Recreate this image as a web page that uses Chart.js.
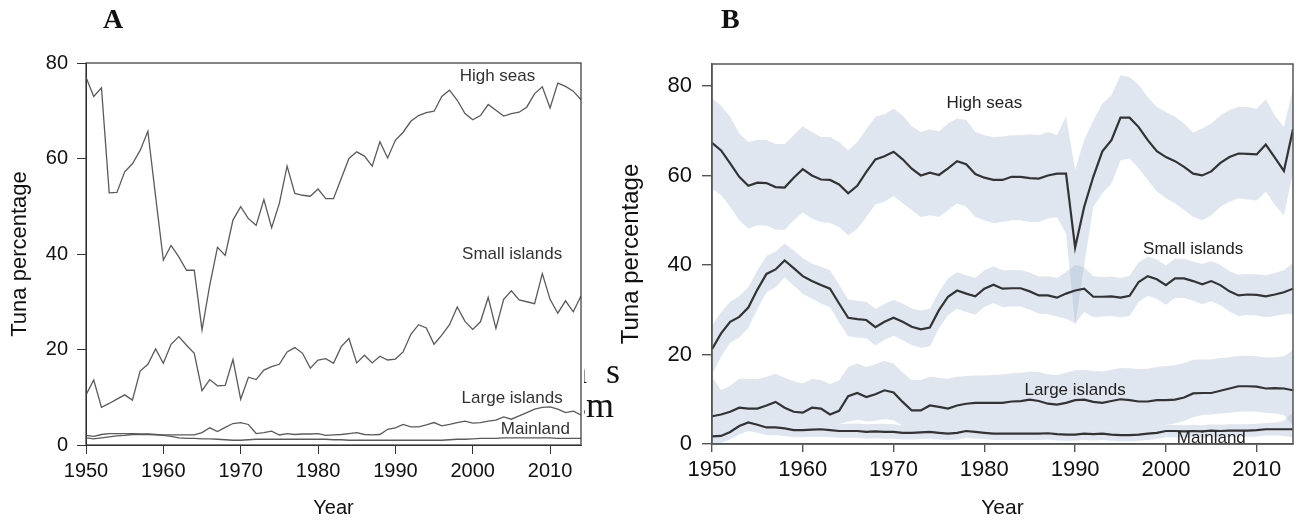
<!DOCTYPE html>
<html>
<head>
<meta charset="utf-8">
<script src="https://cdn.jsdelivr.net/npm/chart.js@4.4.0/dist/chart.umd.min.js"></script>
<style>
  html, body { margin: 0; padding: 0; background: #fff; }
  body { width: 1297px; height: 521px; position: relative; overflow: hidden; }
  .panel { position: absolute; top: 0; height: 521px; }
  #wrapA { left: 0; width: 620px; }
  #wrapB { left: 620px; width: 677px; }
  .tag { position: absolute; top: 3px; font: bold 28px "Liberation Serif", serif; color: #111; }
</style>
</head>
<body>
<div class="panel" id="wrapA"><canvas id="chartA" width="620" height="521"></canvas></div>
<div class="panel" id="wrapB"><canvas id="chartB" width="677" height="521"></canvas></div>
<div class="tag" style="left:103px">A</div>
<div class="tag" style="left:721px">B</div>
<script>
const years = Array.from({ length: 65 }, (_, i) => 1950 + i);
const xTicks = [1950, 1960, 1970, 1980, 1990, 2000, 2010];
const yTicks = [0, 20, 40, 60, 80];

// Panel A - raw percentages
const highSeasA = [
  77.0, 73.0, 74.8, 52.8, 52.9, 57.2, 58.9, 61.7, 65.7, 52.0,
  38.7, 41.8, 39.4, 36.6, 36.6, 24.1, 33.5, 41.4, 39.7, 47.1,
  49.9, 47.4, 46.0, 51.4, 45.5, 50.6, 58.4, 52.7, 52.3, 52.1,
  53.6, 51.6, 51.6, 55.8, 60.0, 61.4, 60.5, 58.4, 63.5, 60.1,
  63.8, 65.5, 67.8, 69.0, 69.6, 69.9, 73.0, 74.3, 72.2, 69.4,
  68.1, 69.0, 71.3, 70.1, 68.9, 69.4, 69.7, 70.8, 73.6, 75.0,
  70.6, 75.8, 75.1, 74.1, 72.3
];
const smallIslandsA = [
  10.5, 13.6, 7.9, 8.7, 9.6, 10.5, 9.4, 15.5, 16.9, 20.1,
  17.1, 21.1, 22.7, 20.9, 19.2, 11.4, 13.7, 12.4, 12.5, 17.9,
  9.6, 14.2, 13.7, 15.7, 16.4, 16.9, 19.5, 20.4, 19.2, 16.1,
  17.8, 18.1, 17.1, 20.6, 22.3, 17.2, 18.8, 17.2, 18.6, 17.8,
  18.0, 19.5, 23.2, 25.2, 24.5, 21.1, 23.0, 25.2, 28.9, 25.9,
  24.2, 25.8, 30.9, 24.4, 30.5, 32.3, 30.4, 30.0, 29.6, 35.9,
  30.5, 27.6, 30.2, 27.9, 31.2
];
const largeIslandsA = [
  2.0, 1.8, 2.2, 2.4, 2.4, 2.4, 2.4, 2.3, 2.3, 2.2,
  2.1, 2.1, 2.1, 2.1, 2.1, 2.6, 3.6, 2.8, 3.7, 4.5,
  4.7, 4.3, 2.4, 2.6, 2.9, 2.1, 2.4, 2.2, 2.3, 2.3,
  2.4, 2.0, 2.1, 2.2, 2.4, 2.6, 2.2, 2.1, 2.2, 3.3,
  3.6, 4.3, 3.8, 3.8, 4.2, 4.7, 4.0, 4.3, 4.7, 5.0,
  4.6, 4.7, 5.0, 5.2, 5.9, 5.4, 6.1, 6.8, 7.5, 7.9,
  8.0, 7.5, 6.8, 7.1, 6.3
];
const mainlandA = [
  1.5, 1.3, 1.5, 1.7, 1.9, 2.0, 2.2, 2.2, 2.2, 2.1,
  2.0, 1.8, 1.5, 1.4, 1.4, 1.3, 1.3, 1.2, 1.1, 1.0,
  1.0, 1.1, 1.2, 1.2, 1.2, 1.2, 1.2, 1.2, 1.2, 1.2,
  1.2, 1.2, 1.1, 1.1, 1.0, 1.0, 1.0, 1.0, 1.0, 1.0,
  1.0, 1.0, 1.0, 1.0, 1.0, 1.0, 1.0, 1.1, 1.2, 1.2,
  1.3, 1.4, 1.4, 1.4, 1.5, 1.5, 1.5, 1.5, 1.5, 1.5,
  1.5, 1.4, 1.4, 1.4, 1.4
];

// Panel B - modelled percentages with intervals
const highSeasB = [
  67.3, 65.6, 62.7, 59.7, 57.7, 58.4, 58.3, 57.4, 57.3, 59.5,
  61.4, 60.0, 59.1, 59.0, 58.0, 56.0, 57.7, 60.8, 63.6, 64.3,
  65.3, 63.6, 61.5, 60.0, 60.6, 60.1, 61.6, 63.2, 62.5, 60.3,
  59.5, 59.0, 59.0, 59.7, 59.7, 59.4, 59.3, 60.0, 60.4, 60.4,
  43.9, 53.0, 59.7, 65.4, 67.9, 72.9, 72.9, 70.8, 67.9, 65.4,
  64.1, 63.2, 61.9, 60.4, 60.0, 60.9, 62.8, 64.1, 64.9, 64.8,
  64.7, 66.9, 64.0, 61.0, 70.3
];
const highSeasBHi = [
  77.3, 75.6, 73.1, 69.4, 67.5, 68.0, 67.9, 67.0, 67.0, 69.0,
  71.0, 69.7, 68.6, 68.6, 67.5, 65.6, 67.5, 70.3, 73.1, 73.7,
  74.9, 73.4, 71.0, 69.7, 70.3, 69.9, 71.6, 72.7, 72.4, 69.7,
  69.0, 68.6, 68.7, 69.0, 69.0, 69.2, 69.0, 69.7, 69.0, 73.2,
  61.3, 67.9, 72.3, 76.1, 77.9, 82.4, 82.0, 80.2, 77.5, 75.3,
  74.2, 73.1, 71.6, 69.6, 70.5, 71.6, 73.4, 74.6, 75.3, 75.3,
  74.9, 77.0, 73.4, 70.8, 79.4
];
const highSeasBLo = [
  57.1, 55.6, 53.0, 50.0, 48.1, 48.9, 48.8, 47.9, 47.8, 50.0,
  51.7, 50.4, 49.6, 49.4, 48.5, 46.6, 48.1, 50.7, 53.5, 54.1,
  55.4, 53.8, 52.3, 50.7, 51.1, 50.7, 52.3, 53.8, 53.0, 50.7,
  50.0, 49.4, 49.6, 50.0, 50.0, 49.6, 49.6, 50.4, 50.7, 47.0,
  26.5, 40.0, 53.0, 56.0, 58.2, 63.4, 63.8, 61.6, 59.0, 56.4,
  54.9, 53.8, 52.3, 50.7, 50.0, 51.1, 53.0, 54.1, 54.9, 54.6,
  54.4, 56.4, 53.4, 51.1, 60.7
];
const smallIslandsB = [
  21.2, 24.7, 27.3, 28.4, 30.5, 34.5, 38.0, 39.0, 41.0, 39.3,
  37.5, 36.4, 35.5, 34.7, 31.4, 28.2, 27.9, 27.7, 26.1, 27.3,
  28.2, 27.3, 26.2, 25.6, 26.0, 29.9, 32.9, 34.3, 33.6, 33.0,
  34.7, 35.6, 34.7, 34.8, 34.8, 34.1, 33.2, 33.2, 32.7, 33.6,
  34.3, 34.7, 32.9, 32.9, 33.0, 32.7, 33.1, 36.2, 37.5, 36.8,
  35.5, 37.0, 37.0, 36.4, 35.7, 36.4, 35.5, 34.1, 33.2, 33.4,
  33.3, 33.0, 33.4, 33.9, 34.7
];
const smallIslandsBHi = [
  26.5, 29.5, 31.8, 33.0, 35.0, 38.8, 42.0, 43.0, 44.8, 43.3,
  41.5, 40.3, 39.6, 38.8, 35.6, 32.3, 32.0, 31.8, 30.2, 31.3,
  32.2, 31.4, 30.3, 29.8, 30.2, 34.0, 37.0, 38.4, 37.7, 37.1,
  38.8, 39.7, 38.8, 38.9, 38.9, 38.3, 37.4, 37.5, 37.1, 38.5,
  40.0, 39.5, 37.5, 37.3, 37.4, 37.1, 37.6, 40.6, 41.9, 41.2,
  39.9, 41.4, 41.4, 40.8, 40.2, 40.9, 40.0, 38.6, 37.8, 38.0,
  37.9, 37.7, 38.2, 38.8, 40.5
];
const smallIslandsBLo = [
  15.5, 19.5, 22.6, 23.8, 26.0, 30.2, 33.9, 35.0, 37.2, 35.4,
  33.5, 32.5, 31.4, 30.6, 27.2, 24.1, 23.8, 23.6, 22.0, 23.3,
  24.2, 23.2, 22.1, 21.5, 21.8, 25.8, 28.8, 30.2, 29.5, 28.9,
  30.6, 31.5, 30.6, 30.7, 30.7, 30.0, 29.1, 29.0, 28.5, 28.0,
  27.0, 29.5, 28.4, 28.5, 28.6, 28.3, 28.6, 31.8, 33.1, 32.4,
  31.1, 32.6, 32.6, 32.0, 31.3, 31.9, 31.0, 29.6, 28.6, 28.8,
  28.7, 28.3, 28.6, 29.0, 29.0
];
const largeIslandsB = [
  6.2, 6.6, 7.2, 8.1, 7.9, 7.9, 8.6, 9.4, 8.1, 7.2,
  7.0, 8.1, 7.9, 6.6, 7.4, 10.7, 11.4, 10.5, 11.1, 12.0,
  11.5, 9.4, 7.5, 7.5, 8.6, 8.3, 7.9, 8.6, 9.0, 9.2,
  9.2, 9.2, 9.2, 9.5, 9.6, 9.9, 9.6, 9.0, 8.8, 9.2,
  9.8, 9.9, 9.4, 9.2, 9.6, 10.0, 9.8, 9.5, 9.5, 9.8,
  9.8, 9.9, 10.4, 11.3, 11.4, 11.4, 11.9, 12.4, 12.9, 12.9,
  12.8, 12.4, 12.5, 12.4, 12.0
];
const largeIslandsBHi = [
  15.0, 12.0, 13.0, 14.6, 14.5, 14.5, 15.0, 15.7, 14.8, 14.0,
  13.5, 14.5, 14.3, 13.4, 14.2, 17.2, 18.0, 17.2, 17.8, 18.6,
  18.0, 16.0, 14.3, 14.3, 15.0, 14.8, 14.6, 15.0, 15.2, 15.3,
  15.3, 15.4, 15.5, 15.8, 15.9, 16.2, 16.1, 15.6, 15.4, 15.9,
  16.5, 16.6, 16.3, 16.2, 16.6, 17.0, 16.9, 16.7, 16.8, 17.2,
  17.4, 17.6, 18.1, 18.8, 18.9, 18.9, 19.2, 19.4, 19.7, 19.7,
  19.6, 19.3, 19.4, 19.6, 21.0
];
const largeIslandsBLo = [
  3.5, 3.6, 4.5, 6.0, 6.8, 6.3, 5.6, 5.5, 5.2, 4.8,
  4.7, 4.8, 4.9, 4.6, 4.4, 5.0, 5.4, 5.0, 5.2, 5.6,
  5.3, 4.1, 4.0, 4.1, 4.2, 4.0, 3.8, 4.0, 4.4, 4.2,
  4.0, 3.8, 3.8, 3.8, 3.8, 3.8, 3.8, 3.9, 3.7, 3.6,
  3.6, 3.8, 3.7, 3.8, 3.6, 3.5, 3.5, 3.6, 3.8, 4.0,
  4.3, 4.6, 5.2, 6.0, 6.5, 6.6, 6.8, 7.0, 7.2, 7.3,
  7.2, 7.0, 6.8, 6.5, 4.0
];
const mainlandB = [
  1.7, 1.8, 2.7, 4.0, 4.8, 4.3, 3.7, 3.7, 3.5, 3.1,
  3.1, 3.2, 3.3, 3.1, 2.9, 2.9, 2.9, 2.7, 2.8, 2.7,
  2.7, 2.5, 2.5, 2.6, 2.7, 2.5, 2.3, 2.5, 2.9, 2.7,
  2.5, 2.3, 2.3, 2.3, 2.3, 2.3, 2.3, 2.4, 2.2, 2.1,
  2.1, 2.3, 2.2, 2.3, 2.1, 2.0, 2.0, 2.1, 2.3, 2.5,
  2.9, 2.9, 2.8, 2.9, 2.8, 3.0, 2.9, 3.0, 3.0, 3.0,
  3.1, 3.3, 3.3, 3.3, 3.3
];
const mainlandBHi = [
  3.5, 3.6, 4.5, 6.0, 6.8, 6.3, 5.6, 5.5, 5.2, 4.8,
  4.7, 4.8, 4.9, 4.6, 4.4, 4.5, 4.6, 4.4, 4.5, 4.5,
  4.4, 4.1, 4.0, 4.1, 4.2, 4.0, 3.8, 4.0, 4.4, 4.2,
  4.0, 3.8, 3.8, 3.8, 3.8, 3.8, 3.8, 3.9, 3.7, 3.6,
  3.6, 3.8, 3.7, 3.8, 3.6, 3.5, 3.5, 3.6, 3.8, 4.0,
  4.3, 4.3, 4.2, 4.3, 4.2, 4.4, 4.3, 4.4, 4.4, 4.4,
  4.5, 4.7, 4.8, 5.2, 7.0
];
const mainlandBLo = [
  0.0, 0.2, 1.0, 2.2, 2.9, 2.5, 2.0, 2.0, 1.8, 1.5,
  1.5, 1.6, 1.6, 1.5, 1.4, 1.4, 1.4, 1.2, 1.3, 1.2,
  1.2, 1.0, 1.0, 1.1, 1.2, 1.0, 0.9, 1.0, 1.4, 1.2,
  1.1, 0.9, 0.9, 0.9, 0.9, 0.9, 0.9, 1.0, 0.8, 0.7,
  0.7, 0.9, 0.8, 0.9, 0.7, 0.6, 0.6, 0.7, 0.9, 1.1,
  1.5, 1.5, 1.4, 1.5, 1.4, 1.6, 1.5, 1.6, 1.6, 1.6,
  1.7, 1.9, 1.9, 1.8, 1.5
];

const sans = '"Liberation Sans", Arial, sans-serif';
const pts = arr => arr.map((v, i) => ({ x: years[i], y: v }));

const frame = {
  id: 'frame',
  afterDraw(chart, args, o) {
    const { ctx, chartArea: a, scales } = chart;
    ctx.save();
    ctx.strokeStyle = o.color;
    ctx.lineWidth = o.width;
    ctx.strokeRect(a.left, a.top, a.right - a.left, a.bottom - a.top);

    ctx.fillStyle = o.textColor;
    ctx.font = o.labelFont;
    ctx.textAlign = 'center';
    ctx.textBaseline = 'middle';
    o.labels.forEach(l => {
      ctx.fillText(l.text, scales.x.getPixelForValue(l.x), scales.y.getPixelForValue(l.y));
    });

    ctx.fillStyle = '#111';
    ctx.font = o.titleFont;
    ctx.textBaseline = 'alphabetic';
    ctx.fillText('Year', (a.left + a.right) / 2, o.xTitleY);
    ctx.save();
    ctx.font = o.yTitleFont;
    ctx.translate(o.yTitleX, (a.top + a.bottom) / 2);
    ctx.rotate(-Math.PI / 2);
    ctx.textBaseline = 'middle';
    ctx.fillText('Tuna percentage', 0, 0);
    ctx.restore();

    // bits of the page text showing beside panel A
    if (o.stray) {
      ctx.save();
      ctx.beginPath();
      ctx.rect(584, 340, 40, 100);
      ctx.clip();
      ctx.fillStyle = '#111';
      ctx.font = '36px "Liberation Serif", serif';
      ctx.textAlign = 'left';
      ctx.fillText('n', 569, 383);
      ctx.fillText('s', 606, 383);
      ctx.fillText('sm', 572, 417);
      ctx.restore();
    }
    ctx.restore();
  }
};

function axes(cfg) {
  return {
    x: {
      type: 'linear', min: 1950, max: 2014,
      afterBuildTicks: s => { s.ticks = xTicks.map(v => ({ value: v })); },
      afterFit: s => { s.height = cfg.xH; },
      grid: { drawOnChartArea: false, tickLength: cfg.xTick, color: cfg.axis, lineWidth: cfg.lw },
      border: { color: cfg.axis, width: cfg.lw },
      ticks: { callback: v => String(v), font: { family: sans, size: cfg.tickSize }, color: '#111',
               padding: cfg.xPad, maxRotation: 0, autoSkip: false }
    },
    y: {
      type: 'linear', min: 0, max: cfg.yMax,
      afterBuildTicks: s => { s.ticks = yTicks.map(v => ({ value: v })); },
      afterFit: s => { s.width = cfg.yW; },
      grid: { drawOnChartArea: false, tickLength: cfg.yTick, color: cfg.axis, lineWidth: cfg.lw },
      border: { color: cfg.axis, width: cfg.lw },
      ticks: { callback: v => String(v), font: { family: sans, size: cfg.tickSize }, color: '#111',
               padding: cfg.yPad }
    }
  };
}

const lineA = (data) => ({
  data: pts(data), borderColor: '#5a5a5a', borderWidth: 1.3,
  pointRadius: 0, tension: 0, fill: false
});

new Chart(document.getElementById('chartA'), {
  type: 'line',
  data: { datasets: [lineA(highSeasA), lineA(smallIslandsA), lineA(largeIslandsA), lineA(mainlandA)] },
  options: {
    responsive: false, animation: false,
    layout: { padding: { top: 63, right: 39, bottom: 0, left: 0 } },
    plugins: {
      legend: { display: false }, tooltip: { enabled: false },
      frame: {
        color: '#333', width: 1.2, textColor: '#333',
        labelFont: '17px ' + sans, titleFont: '20px ' + sans, yTitleFont: '22px ' + sans,
        xTitleY: 514, yTitleX: 20, stray: true,
        labels: [
          { text: 'High seas', x: 2003.2, y: 77.2 },
          { text: 'Small islands', x: 2005.1, y: 40.0 },
          { text: 'Large islands', x: 2005.1, y: 9.8 },
          { text: 'Mainland', x: 2008.1, y: 3.3 }
        ]
      }
    },
    scales: axes({ xH: 76, yW: 86, xTick: 9, yTick: 9, axis: '#333', lw: 1, tickSize: 20,
                   xPad: 5, yPad: 9, yMax: 80 })
  },
  plugins: [frame]
});

const bandFill = 'rgba(170, 188, 214, 0.38)';
const bandHi = (data) => ({
  data: pts(data), borderColor: 'transparent', borderWidth: 0, pointRadius: 0,
  tension: 0, fill: '+1', backgroundColor: bandFill, order: 2
});
const bandLo = (data) => ({
  data: pts(data), borderColor: 'transparent', borderWidth: 0, pointRadius: 0,
  tension: 0, fill: false, order: 2
});
const lineB = (data) => ({
  data: pts(data), borderColor: '#333', borderWidth: 2.2, pointRadius: 0,
  tension: 0, fill: false, order: 0
});

new Chart(document.getElementById('chartB'), {
  type: 'line',
  data: {
    datasets: [
      bandHi(highSeasBHi), bandLo(highSeasBLo),
      bandHi(smallIslandsBHi), bandLo(smallIslandsBLo),
      bandHi(largeIslandsBHi), bandLo(largeIslandsBLo),
      bandHi(mainlandBHi), bandLo(mainlandBLo),
      lineB(highSeasB), lineB(smallIslandsB), lineB(largeIslandsB), lineB(mainlandB)
    ]
  },
  options: {
    responsive: false, animation: false,
    layout: { padding: { top: 64, right: 4, bottom: 0, left: 0 } },
    plugins: {
      legend: { display: false }, tooltip: { enabled: false },
      frame: {
        color: '#555', width: 1.5, textColor: '#222',
        labelFont: '17px ' + sans, titleFont: '21px ' + sans, yTitleFont: '24px ' + sans,
        xTitleY: 514, yTitleX: 11, stray: false,
        labels: [
          { text: 'High seas', x: 1980.0, y: 76.2 },
          { text: 'Small islands', x: 2003.0, y: 43.6 },
          { text: 'Large islands', x: 1990.0, y: 12.1 },
          { text: 'Mainland', x: 2005.0, y: 1.2 }
        ]
      }
    },
    scales: axes({ xH: 77, yW: 92, xTick: 8, yTick: 10, axis: '#555', lw: 1.4, tickSize: 22,
                   xPad: 5, yPad: 10, yMax: 84.9 })
  },
  plugins: [frame]
});
</script>
</body>
</html>
